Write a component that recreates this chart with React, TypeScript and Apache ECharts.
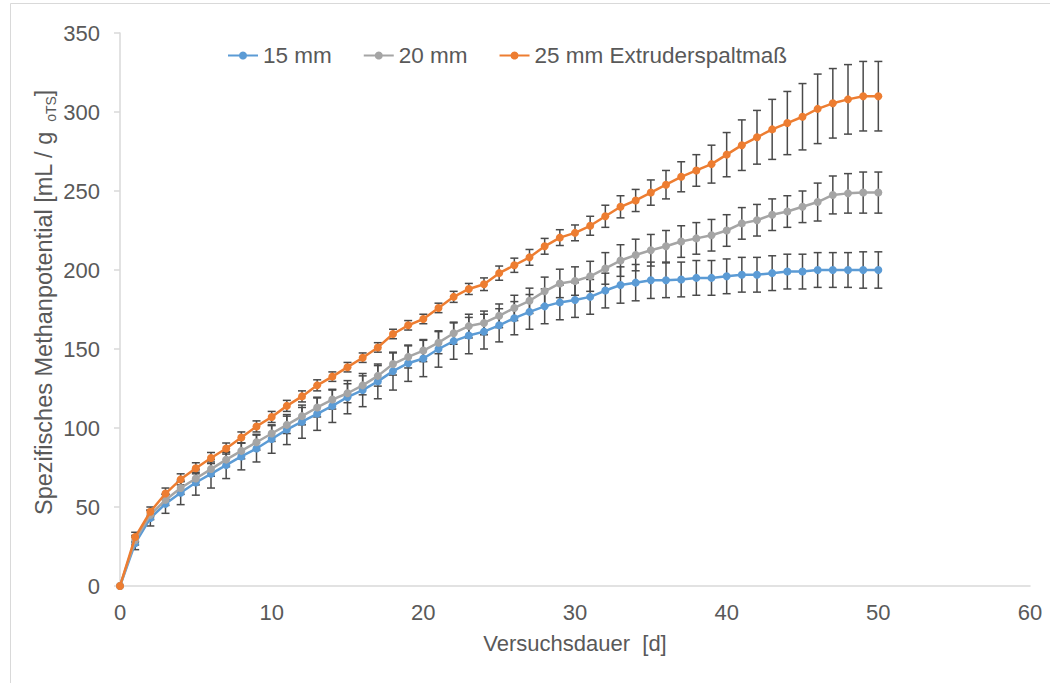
import React, { useEffect, useRef } from "react";
import * as echarts from "echarts";

const days: number[] = Array.from({ length: 51 }, (_, i) => i);

const s15: number[] = [0, 27, 43, 52, 59, 65.5, 71, 76.5, 82, 87, 93, 99, 104, 109, 114, 119.5, 124, 129.5, 136, 141, 144, 150, 155, 158.5, 161, 165, 169.5, 173.5, 177, 179.5, 181, 183, 187, 190.5, 192, 193.5, 193.5, 194, 195, 195, 196, 197, 197, 198, 199, 199, 200, 200, 200, 200, 200];
const e15: number[] = [0, 4, 5, 6, 7.5, 8, 9, 8.5, 8.5, 8.5, 9, 9.5, 10.5, 10.5, 10.5, 10.5, 10.5, 11, 12, 11.5, 11.5, 11.5, 11.5, 11.5, 11, 10.5, 10.5, 11, 11, 11, 11, 11, 11, 11.5, 11.5, 11.5, 11, 11, 11, 11, 11, 11, 11, 11, 11, 11, 11, 11, 11, 11.5, 11.5];

const s20: number[] = [0, 29, 45, 54.5, 62, 68, 74, 80, 85.5, 91, 96.5, 102, 107.5, 113, 118, 122, 127, 133, 140.5, 145, 149, 154, 160, 164.5, 166.5, 171, 176, 180.5, 186.5, 191.5, 193, 196, 201, 206, 209.5, 212.5, 215, 218, 220, 222, 225, 229.5, 231.5, 235, 237, 240, 243, 247.5, 248.5, 249, 249];
const e20: number[] = [0, 3, 3, 3.5, 4, 4, 4.5, 4.5, 5, 5, 5, 5.5, 5.5, 6, 6, 6, 6, 6.5, 7, 7, 7, 7, 7, 7.5, 7.5, 7.5, 8, 8, 9, 9, 9, 9.5, 10, 10, 10, 10, 10, 10, 10, 10, 10, 10, 10, 10, 10, 10, 12, 12, 12.5, 13, 13];

const s25: number[] = [0, 31, 47, 58.5, 67.5, 74.5, 81, 87, 94, 101, 107, 114, 120, 127, 132.5, 138.5, 144.5, 151, 159.5, 165, 169, 176, 183, 188, 191, 198, 203, 208, 215, 220.5, 223.5, 228, 234, 240, 244, 249, 254, 259, 263, 267, 273, 279, 284, 289, 293, 297, 302, 305.5, 308, 310, 310];
const e25: number[] = [0, 3, 3, 3.5, 3.5, 3.5, 3.5, 3.5, 3.5, 3.5, 3.5, 3.5, 3.5, 3.5, 3, 3, 3, 3, 3, 3, 3, 3, 3.5, 3.5, 4, 4.5, 4.5, 5, 5, 5, 5, 6, 7, 7, 7, 8, 9, 9.5, 10, 12, 14, 16, 17, 19, 20, 21, 22, 22, 22, 22, 22];

const seriesNames: string[] = ["15 mm", "20 mm", "25 mm Extruderspaltmaß"];
const seriesColors: string[] = ["#5b9bd5", "#a5a5a5", "#ed7d31"];
const seriesValues: number[][] = [s15, s20, s25];
const seriesErrors: number[][] = [e15, e20, e25];

const TEXT = "#595959";
const FONT = "'Liberation Sans', Arial, sans-serif";

export default function App() {
  const ref = useRef<HTMLDivElement>(null);
  useEffect(() => {
    document.body.style.margin = "0";
    const chart = echarts.init(ref.current!, undefined, { renderer: "svg" });

    const lineSeries = seriesNames.map((name, k) => ({
      name,
      type: "line",
      data: days.map((d, i) => [d, seriesValues[k][i]]),
      symbol: "circle",
      symbolSize: 8,
      lineStyle: { color: seriesColors[k], width: 2.5 },
      itemStyle: { color: seriesColors[k] },
      z: 3 + k,
    }));

    const errSeries = seriesNames.map((_, k) => ({
      type: "custom",
      silent: true,
      z: 2 + k,
      encode: { x: 0, y: [1, 2] },
      data: days.map((d, i) => [d, seriesValues[k][i] - seriesErrors[k][i], seriesValues[k][i] + seriesErrors[k][i]]),
      renderItem: (params: any, api: any) => {
        const x = api.value(0);
        const lo = api.coord([x, api.value(1)]);
        const hi = api.coord([x, api.value(2)]);
        const hw = 4;
        const style = { stroke: "#4a4a4a", lineWidth: 1.5 };
        return {
          type: "group",
          children: [
            { type: "line", shape: { x1: lo[0], y1: lo[1], x2: hi[0], y2: hi[1] }, style },
            { type: "line", shape: { x1: lo[0] - hw, y1: lo[1], x2: lo[0] + hw, y2: lo[1] }, style },
            { type: "line", shape: { x1: hi[0] - hw, y1: hi[1], x2: hi[0] + hw, y2: hi[1] }, style },
          ],
        };
      },
    }));

    chart.setOption({
      animation: false,
      backgroundColor: "#ffffff",
      textStyle: { fontFamily: FONT },
      graphic: [
        {
          type: "rect",
          shape: { x: 10.5, y: 3.5, width: 1100, height: 700 },
          style: { fill: "none", stroke: "#d9d9d9", lineWidth: 1 },
          silent: true,
          z: -10,
        },
      ],
      legend: {
        data: seriesNames,
        left: 222,
        top: 39,
        itemWidth: 30,
        itemHeight: 10,
        itemGap: 31,
        textStyle: { color: TEXT, fontSize: 22.5, fontFamily: FONT },
      },
      grid: { left: 120, right: 20, top: 33, bottom: 97, containLabel: false },
      xAxis: {
        type: "value",
        min: 0,
        max: 60,
        interval: 10,
        name: "Versuchsdauer  [d]",
        nameLocation: "middle",
        nameGap: 46,
        nameMoveOverlap: false,
        nameTextStyle: { color: TEXT, fontSize: 22, fontFamily: FONT },
        axisLine: { show: true, lineStyle: { color: "#d9d9d9", width: 1.5 } },
        axisTick: { show: false },
        splitLine: { show: false },
        axisLabel: { color: TEXT, fontSize: 22, margin: 15, fontFamily: FONT },
      },
      yAxis: {
        type: "value",
        min: 0,
        max: 350,
        interval: 50,
        name: "{a|Spezifisches Methanpotential [mL / g }{s|oTS}{a|]}",
        nameLocation: "middle",
        nameGap: 62,
        nameMoveOverlap: false,
        nameTextStyle: {
          color: TEXT,
          fontFamily: FONT,
          padding: [0, 0, 0, 14],
          rich: {
            a: { fontSize: 23.5, color: TEXT, fontFamily: FONT, lineHeight: 28, verticalAlign: "middle" },
            s: { fontSize: 14, color: TEXT, fontFamily: FONT, lineHeight: 28, verticalAlign: "bottom", padding: [6, 0, 0, 3] },
          },
        },
        axisLine: { show: true, lineStyle: { color: "#d9d9d9", width: 1.5 } },
        axisTick: { show: true, length: 6, inside: false, lineStyle: { color: "#d9d9d9", width: 1.5 } },
        splitLine: { show: false },
        axisLabel: { color: TEXT, fontSize: 22, margin: 20, fontFamily: FONT },
      },
      series: [...errSeries, ...lineSeries],
    });
    return () => chart.dispose();
  }, []);
  return <div ref={ref} style={{ width: 1050, height: 683 }} />;
}
